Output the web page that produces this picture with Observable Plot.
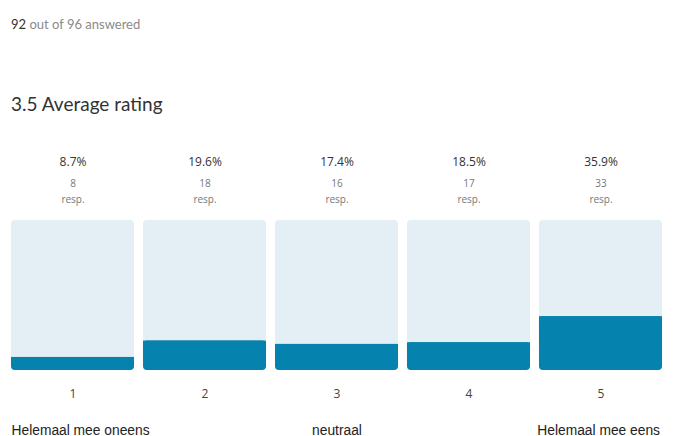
<!DOCTYPE html>
<html>
<head>
<meta charset="utf-8">
<script src="https://cdn.jsdelivr.net/npm/d3@7"></script>
<script src="https://cdn.jsdelivr.net/npm/@observablehq/plot@0.6"></script>
<style>
  html, body { margin: 0; padding: 0; background: #fff; width: 699px; height: 436px; overflow: hidden; }
  #wrap { position: relative; width: 699px; height: 436px; }
  .sub { position: absolute; left: 11px; top: 16px; font: 13px/16px Lato, "Open Sans", sans-serif; color: #8a8a8a; }
  .sub b { font-weight: 400; color: #333; }
  .avg { position: absolute; left: 11px; top: 92px; font: 19px/24px Lato, "Open Sans", sans-serif; color: #333; }
  #chart { position: absolute; left: 0; top: 140px; }
</style>
</head>
<body>
<div id="wrap">
  <div class="sub"><b id="answered"></b> <span id="outof"></span></div>
  <div class="avg" id="avg"></div>
  <div id="chart"></div>
</div>
<script>
const ratings = ["1", "2", "3", "4", "5"];
const percents = [8.7, 19.6, 17.4, 18.5, 35.9];
const counts = [8, 18, 16, 17, 33];
const answered = 92;
const total = 96;
const averageRating = 3.5;
const anchorLabels = ["Helemaal mee oneens", "neutraal", "Helemaal mee eens"];
const anchorRatings = ["1", "3", "5"];

document.getElementById("answered").textContent = answered;
document.getElementById("outof").textContent = `out of ${total} answered`;
document.getElementById("avg").textContent = `${averageRating} Average rating`;

const rows = ratings.map((r, i) => ({rating: r, pct: percents[i], count: counts[i], full: 100}));
const anchors = anchorRatings.map((r, i) => ({rating: r, label: anchorLabels[i]}));

const W = 699, H = 296;
const labelFont = "'Liberation Sans', Arial, sans-serif";
const plot = Plot.plot({
  width: W,
  height: H,
  marginLeft: 11,
  marginRight: 37,
  marginTop: 80,
  marginBottom: 66,
  style: {fontFamily: "'Open Sans', sans-serif", background: "transparent", overflow: "visible"},
  x: {domain: ratings, paddingInner: 0.068, paddingOuter: 0, round: false, axis: null},
  y: {domain: [0, 100], axis: null},
  marks: [
    Plot.barY(rows, {x: "rating", y: "full", fill: "#e3eef5", rx: 4}),
    Plot.barY(rows, {x: "rating", y: "pct", fill: "#0582ad", rx: 4}),
    Plot.barY(rows, {x: "rating", y1: d => d.pct / 2, y2: "pct", fill: "#0582ad"}),
    Plot.text(rows, {x: "rating", text: d => `${d.pct}%`, frameAnchor: "top", dy: -63, fontSize: 12, fill: "#333"}),
    Plot.text(rows, {x: "rating", text: d => `${d.count}`, frameAnchor: "top", dy: -41, fontSize: 10, fill: "#777"}),
    Plot.text(rows, {x: "rating", text: () => "resp.", frameAnchor: "top", dy: -25, fontSize: 10, fill: "#777"}),
    Plot.text(rows, {x: "rating", text: "rating", frameAnchor: "bottom", dy: 27, fontSize: 12, fill: "#444"}),
    Plot.text(anchors.slice(0, 1), {x: "rating", text: "label", frameAnchor: "bottom", dy: 64, dx: -61.5, textAnchor: "start", fontSize: 13.8, fill: "#222", fontFamily: labelFont}),
    Plot.text(anchors.slice(1, 2), {x: "rating", text: "label", frameAnchor: "bottom", dy: 64, fontSize: 13.8, fill: "#222", fontFamily: labelFont}),
    Plot.text(anchors.slice(2), {x: "rating", text: "label", frameAnchor: "bottom", dy: 64, dx: 59, textAnchor: "end", fontSize: 13.8, fill: "#222", fontFamily: labelFont})
  ]
});
document.getElementById("chart").appendChild(plot);
</script>
</body>
</html>
